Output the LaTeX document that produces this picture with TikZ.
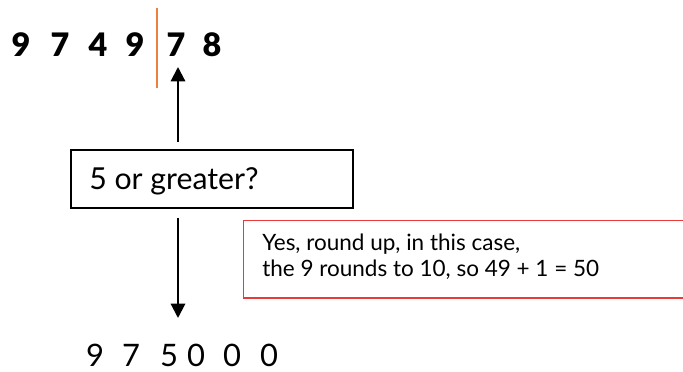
\documentclass[tikz,border=0pt]{standalone}
\usepackage{fontspec}
\setmainfont{Lato}
\newfontfamily\heavyfont{Lato Black}
\usepackage{tikz}
\usetikzlibrary{positioning, arrows.meta}

\definecolor{cutorange}{RGB}{236,128,60}
\definecolor{noteRed}{RGB}{232,58,58}

\tikzset{
  digit/.style={font=\fontsize{23}{26}\selectfont\heavyfont, inner sep=0pt, anchor=base},
  result/.style={font=\fontsize{22}{26}\selectfont, inner sep=0pt, anchor=base},
  flow/.style={line width=1.5pt, -{Triangle[width=0.36cm, length=0.36cm]}},
  question/.style={draw, line width=0.9pt, minimum width=7.05cm, minimum height=1.45cm, inner sep=0pt},
  note/.style={draw=noteRed, line width=1pt, minimum width=11.1cm, minimum height=1.93cm, inner sep=0pt}
}

\begin{document}
\begin{tikzpicture}[x=0.025cm, y=-0.025cm]
      \useasboundingbox (0, 0) rectangle (683, 372);

      % Number to be rounded
      \foreach \d/\x [count=\i] in {9/21, 7/60, 4/98, 9/135, 7/176, 8/212}
        \node[digit] (top\i) at (\x, 57) {\d};

      % Cut after the fourth digit
      \draw[cutorange, line width=1.2pt] (157, 8) -- (157, 88);

      % Question box
      \node[question] (ask) at (212, 179) {};
      \node[anchor=base west, inner sep=0pt, font=\fontsize{21.5}{26}\selectfont] (asktext) at (89, 190) {5 or greater?};

      % Answer box, running off the right edge
      \node[note, anchor=north west] (answer) at (243, 220) {};
      \node[anchor=base west, inner sep=0pt, align=left, font=\fontsize{16}{18.5}\selectfont] (answertext) at (262, 277)
        {Yes, round up, in this case,\\the 9 rounds to 10, so 49 + 1 = 50};

      % Rounded result
      \foreach \d/\x [count=\i] in {9/95, 7/131, 5/169, 0/196, 0/232, 0/269}
        \node[result] (low\i) at (\x, 366) {\d};

      % Arrows
      \coordinate (upfrom) at (178, 142);
      \coordinate (upto) at (178, 67);
      \coordinate (downfrom) at (178, 218);
      \coordinate (downto) at (178, 318);
      \draw[flow] (upfrom) -- (upto);
      \draw[flow] (downfrom) -- (downto);
\end{tikzpicture}
\end{document}
